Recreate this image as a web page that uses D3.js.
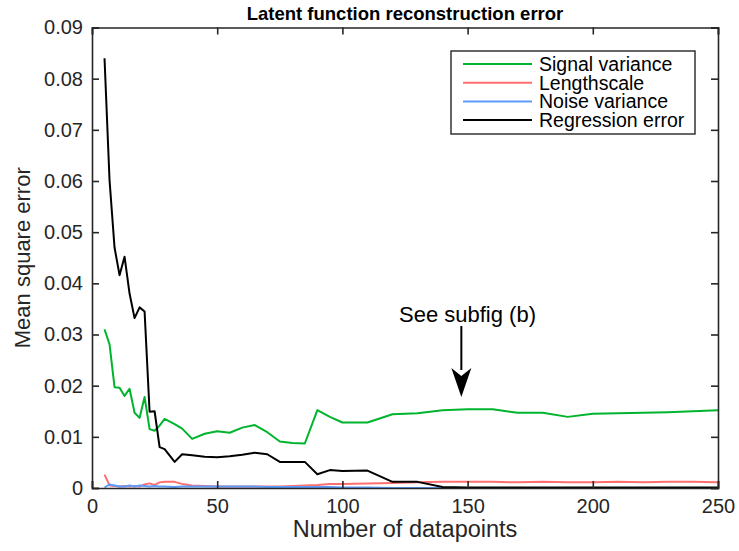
<!DOCTYPE html>
<html>
<head>
<meta charset="utf-8">
<script src="https://cdn.jsdelivr.net/npm/d3@7"></script>
<style>
  body { margin: 0; background: #fff; }
  text { font-family: "Liberation Sans", Arial, sans-serif; }
</style>
</head>
<body>
<svg width="739" height="551"></svg>
<script>
// number of datapoints
var xs = [5, 7, 9, 11, 13, 15, 17, 19, 21, 23, 25, 27, 29, 33, 36, 40, 45, 50, 55, 60, 65, 70, 75, 80, 85, 90, 95, 100,
          110, 120, 130, 140, 150, 160, 170, 180, 190, 200, 210, 220, 230, 240, 250];

var signalVar = [0.031, 0.0281, 0.0197, 0.0196, 0.018, 0.0194, 0.0147, 0.0137, 0.0178, 0.0115, 0.0112, 0.0122, 0.0135, 0.0125, 0.0116,
                 0.0096, 0.0106, 0.0111, 0.0108, 0.0118, 0.0123, 0.0109, 0.0091, 0.0088, 0.0087, 0.0152, 0.0139, 0.0128,
                 0.0128, 0.0144, 0.0146, 0.0152, 0.0154, 0.0154, 0.0147, 0.0147, 0.0139, 0.0145, 0.0146, 0.0147, 0.0148, 0.015, 0.0152];

var lengthscale = [0.0026, 0.0005, 0.0004, 0.0003, 0.0004, 0.0003, 0.0004, 0.0003, 0.0007, 0.0009, 0.0006, 0.0011, 0.0012, 0.0012, 0.0008,
                   0.0005, 0.0004, 0.0003, 0.0003, 0.0003, 0.0003, 0.0003, 0.0003, 0.0004, 0.0005, 0.0006, 0.0008, 0.0008,
                   0.0009, 0.001, 0.0011, 0.0012, 0.0012, 0.0012, 0.0011, 0.0012, 0.0011, 0.0011, 0.0012, 0.0011, 0.0012, 0.0012, 0.0011];

var noiseVar = [0.0001, 0.0007, 0.0005, 0.0003, 0.0003, 0.0005, 0.0003, 0.0005, 0.0004, 0.0003, 0.0004, 0.0003, 0.0003, 0.0002, 0.0003,
                0.0003, 0.0003, 0.0003, 0.0003, 0.0003, 0.0003, 0.0002, 0.0002, 0.0002, 0.0002, 0.0002, 0.0002, 0.0001,
                0.0001, 0, 0, 0, 0, 0, 0, 0, 0, 0, 0, 0, 0, 0, 0];

var regError = [0.084, 0.0602, 0.047, 0.0416, 0.0452, 0.038, 0.0332, 0.0353, 0.0345, 0.0149, 0.015, 0.008, 0.0076, 0.0051, 0.0066,
                0.0064, 0.0061, 0.006, 0.0062, 0.0065, 0.0069, 0.0066, 0.0051, 0.0051, 0.0051, 0.0027, 0.0035, 0.0033,
                0.0034, 0.0012, 0.0012, 0.0002, 0.0001, 0.0001, 0.0001, 0.0001, 0.0001, 0.0001, 0.0001, 0.0001, 0.0001, 0.0001, 0.0001];

var seriesNames = ['Signal variance', 'Lengthscale', 'Noise variance', 'Regression error'];
var seriesColors = ['#00b42d', '#ff6f6f', '#5d9cff', '#000000'];
var seriesValues = [signalVar, lengthscale, noiseVar, regError];

var xTicks = [0, 50, 100, 150, 200, 250];
var yTicks = [0, 0.01, 0.02, 0.03, 0.04, 0.05, 0.06, 0.07, 0.08, 0.09];

var svg = d3.select('svg');
var mLeft = 92, mRight = 718, mTop = 27.5, mBottom = 488;
var axisCol = '#262626';

var x = d3.scaleLinear().domain([0, 250]).range([mLeft, mRight]);
var y = d3.scaleLinear().domain([0, 0.09]).range([mBottom, mTop]);

// lines
var line = d3.line().x(function(d){ return x(d[0]); }).y(function(d){ return y(d[1]); });

seriesValues.forEach(function(vals, i){
    svg.append('path')
        .datum(xs.map(function(v, j){ return [v, vals[j]]; }))
        .attr('d', line)
        .attr('fill', 'none')
        .attr('stroke', seriesColors[i])
        .attr('stroke-width', 2)
        .attr('stroke-linejoin', 'round');
});

// axes (box with inward ticks)
var tl = 7;
svg.append('g').attr('transform', 'translate(0,' + mBottom + ')')
    .call(d3.axisBottom(x).tickValues(xTicks).tickSize(-tl).tickPadding(11).tickFormat(d3.format('d')));
svg.append('g').attr('transform', 'translate(0,' + mTop + ')')
    .call(d3.axisTop(x).tickValues(xTicks).tickSize(-tl).tickFormat(''));
svg.append('g').attr('transform', 'translate(' + mLeft + ',0)')
    .call(d3.axisLeft(y).tickValues(yTicks).tickSize(-tl).tickPadding(9).tickFormat(function(d){ return d === 0 ? '0' : d3.format('.2f')(d); }));
svg.append('g').attr('transform', 'translate(' + mRight + ',0)')
    .call(d3.axisRight(y).tickValues(yTicks).tickSize(-tl).tickFormat(''));

svg.selectAll('.domain').attr('stroke', axisCol).attr('stroke-width', 1.6);
svg.selectAll('.tick line').attr('stroke', axisCol).attr('stroke-width', 1.6);
svg.selectAll('.tick text').attr('fill', axisCol).style('font-size', '20px')
    .style('font-family', '"Liberation Sans", Arial, sans-serif');

// titles
svg.append('text').attr('x', 405).attr('y', 20).attr('text-anchor', 'middle')
    .style('font-size', '18.5px').style('font-weight', 'bold').attr('fill', '#000')
    .text('Latent function reconstruction error');
svg.append('text').attr('x', 405).attr('y', 537).attr('text-anchor', 'middle')
    .style('font-size', '23.5px').attr('fill', axisCol)
    .text('Number of datapoints');
svg.append('text').attr('transform', 'translate(30,' + ((mTop + mBottom) / 2) + ') rotate(-90)')
    .attr('text-anchor', 'middle').style('font-size', '22px').attr('fill', axisCol)
    .text('Mean square error');

// annotation
var ax = x(147.5);
svg.append('text').attr('x', 399).attr('y', 322).style('font-size', '22px').attr('fill', '#000')
    .text('See subfig (b)');
svg.append('line').attr('x1', ax).attr('y1', 326).attr('x2', ax).attr('y2', 370)
    .attr('stroke', '#000').attr('stroke-width', 2);
svg.append('path').attr('d', 'M' + (ax - 10) + ',368 L' + ax + ',397 L' + (ax + 10) + ',368 L' + ax + ',376 Z')
    .attr('fill', '#000');

// legend
var lg = svg.append('g');
lg.append('rect').attr('x', 451).attr('y', 51).attr('width', 244).attr('height', 83)
    .attr('fill', '#fff').attr('stroke', axisCol).attr('stroke-width', 1.4);
seriesNames.forEach(function(n, i){
    var ly = 64 + i * 18.7;
    lg.append('line').attr('x1', 463).attr('x2', 532).attr('y1', ly).attr('y2', ly)
        .attr('stroke', seriesColors[i]).attr('stroke-width', 2);
    lg.append('text').attr('x', 539).attr('y', ly + 7).style('font-size', '19.5px').attr('fill', '#000').text(n);
});
</script>
</body>
</html>
